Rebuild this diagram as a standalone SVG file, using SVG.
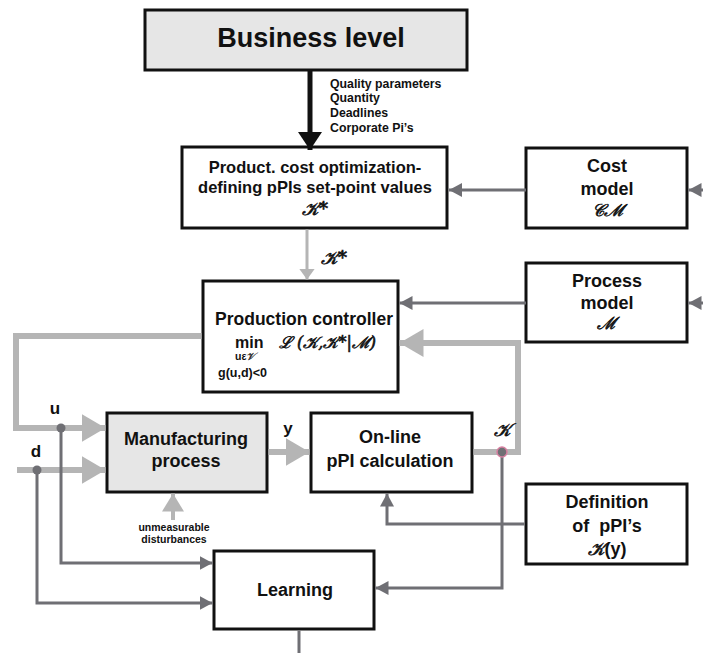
<svg xmlns="http://www.w3.org/2000/svg" width="703" height="653" viewBox="0 0 703 653">
<style>
.box{fill:#ffffff;stroke:#111111;stroke-width:3}
.t{font-family:"Liberation Sans",Arial,sans-serif;font-weight:bold;fill:#111111;text-anchor:middle}
.t.s{text-anchor:start}
.m{font-family:"DejaVu Serif","Liberation Serif",serif;font-style:italic;font-weight:normal;fill:#111111;stroke:#111111;stroke-width:0.6}
.m.c{text-anchor:middle}
.dk{fill:none;stroke:#6f6f74;stroke-width:3}
.lt{fill:none;stroke:#b5b5b5;stroke-width:6}
</style>
<defs>
<marker id="aBlack" markerUnits="userSpaceOnUse" markerWidth="22" markerHeight="24" refX="18" refY="12" orient="auto" viewBox="0 0 22 24"><path d="M0,0 L18,12 L0,24 z" fill="#111111"/></marker>
<marker id="aDark" markerUnits="userSpaceOnUse" markerWidth="14" markerHeight="14" refX="13" refY="7" orient="auto" viewBox="0 0 14 14"><path d="M0,0 L13,7 L0,14 z" fill="#6f6f74"/></marker>
<marker id="aBig" markerUnits="userSpaceOnUse" markerWidth="26" markerHeight="28" refX="24" refY="14" orient="auto" viewBox="0 0 26 28"><path d="M0,0 L24,14 L0,28 z" fill="#b5b5b5"/></marker>
<marker id="aMid" markerUnits="userSpaceOnUse" markerWidth="20" markerHeight="22" refX="18" refY="11" orient="auto" viewBox="0 0 20 22"><path d="M0,0 L18,11 L0,22 z" fill="#b5b5b5"/></marker>
<marker id="aSmall" markerUnits="userSpaceOnUse" markerWidth="12" markerHeight="16" refX="11" refY="8" orient="auto" viewBox="0 0 12 16"><path d="M0,0 L11,8 L0,16 z" fill="#b5b5b5"/></marker>
</defs>

<g id="business">
<rect class="box" x="145" y="10" width="322" height="60" style="fill:#e6e6e6"/>
<text class="t" x="311" y="47" font-size="27">Business level</text>
</g>

<g id="cost-optimization">
<rect class="box" x="182" y="147" width="265" height="81"/>
<text class="t" x="315" y="173" font-size="16.5">Product. cost optimization-</text>
<text class="t" x="315" y="193" font-size="16.5">defining pPIs set-point values</text>
<text class="m c" x="315" y="215" font-size="18">𝒦*</text>
</g>

<g id="cost-model">
<rect class="box" x="526" y="148" width="161" height="80"/>
<text class="t" x="607" y="172" font-size="18">Cost</text>
<text class="t" x="607" y="195" font-size="18">model</text>
<text class="m c" x="607" y="216" font-size="17">𝒞ℳ</text>
</g>

<g id="process-model">
<rect class="box" x="526" y="263" width="161" height="79"/>
<text class="t" x="607" y="287" font-size="18">Process</text>
<text class="t" x="607" y="309" font-size="18">model</text>
<text class="m c" x="607" y="329" font-size="17">ℳ</text>
</g>

<g id="production-controller">
<rect class="box" x="203" y="281" width="195" height="111"/>
<text class="t" x="304" y="325" font-size="17.5">Production controller</text>
<text class="t s" x="235" y="348" font-size="16">min</text>
<text class="m" x="279" y="348" font-size="16">ℒ (𝒦,𝒦*|ℳ)</text>
<text class="t s" x="235" y="360" font-size="10.5">uε<tspan class="m" style="stroke-width:0.3">𝒱</tspan></text>
<text class="t s" x="218" y="377" font-size="12.5">g(u,d)&lt;0</text>
</g>

<g id="manufacturing">
<rect class="box" x="107" y="413" width="160" height="79" style="fill:#e6e6e6"/>
<text class="t" x="186" y="445" font-size="18">Manufacturing</text>
<text class="t" x="186" y="467" font-size="18">process</text>
</g>

<g id="online-ppi">
<rect class="box" x="311" y="413" width="161" height="79"/>
<text class="t" x="390" y="443" font-size="18">On-line</text>
<text class="t" x="390" y="467" font-size="18">pPI calculation</text>
</g>

<g id="definition">
<rect class="box" x="526" y="484" width="161" height="80"/>
<text class="t" x="607" y="508" font-size="18">Definition</text>
<text class="t" x="607" y="532" font-size="18" xml:space="preserve">of  pPI’s</text>
<text class="t" x="607" y="555" font-size="18"><tspan class="m">𝒦</tspan>(y)</text>
</g>

<g id="learning">
<rect class="box" x="214" y="551" width="160" height="78"/>
<text class="t" x="295" y="596" font-size="18">Learning</text>
</g>

<g id="connectors">
<path d="M310,70 V150" stroke="#111111" stroke-width="5" fill="none" marker-end="url(#aBlack)"/>
<path class="dk" d="M526,190 H449" marker-end="url(#aDark)"/>
<path class="dk" d="M703,190 H688.5" marker-end="url(#aDark)"/>
<path class="dk" d="M526,303 H399.5" marker-end="url(#aDark)"/>
<path class="dk" d="M703,303 H688.5" marker-end="url(#aDark)"/>
<path class="lt" d="M307,229.5 V279.5" style="stroke-width:3" marker-end="url(#aSmall)"/>
<path class="lt" d="M201.5,336 H16 V428 H105.5" marker-end="url(#aBig)"/>
<path class="lt" d="M17,470 H105.5" marker-end="url(#aBig)"/>
<path class="lt" d="M268.5,452 H309.5" marker-end="url(#aBig)"/>
<path class="lt" d="M473.5,452 H518 V343 H399.5" marker-end="url(#aBig)"/>
<path class="lt" d="M173,520 V493.5" style="stroke-width:4" marker-end="url(#aMid)"/>
<path class="dk" d="M61,428 V563 H212.5" marker-end="url(#aDark)"/>
<path class="dk" d="M37,470 V603 H212.5" marker-end="url(#aDark)"/>
<path class="dk" d="M502,452 V588 H375.5" marker-end="url(#aDark)"/>
<path class="dk" d="M524.5,524 H387 V493.5" marker-end="url(#aDark)"/>
<path class="dk" d="M299,630.5 V653"/>
<circle cx="61" cy="428" r="4.5" fill="#6f6f74"/>
<circle cx="37" cy="470" r="4.5" fill="#6f6f74"/>
<circle cx="502" cy="452" r="5" fill="#6f6f74" stroke="#d77fa0" stroke-width="1.5"/>
</g>

<g id="labels">
<text class="t s" x="330" y="88" font-size="12.3">Quality parameters</text>
<text class="t s" x="330" y="102" font-size="12.3">Quantity</text>
<text class="t s" x="330" y="117" font-size="12.3">Deadlines</text>
<text class="t s" x="330" y="132" font-size="12.3">Corporate Pi’s</text>
<text class="m" x="321" y="264" font-size="18">𝒦*</text>
<text class="m" x="494" y="436" font-size="18">𝒦</text>
<text class="t" x="55" y="414" font-size="17">u</text>
<text class="t" x="36" y="457" font-size="17">d</text>
<text class="t" x="288" y="434" font-size="17">y</text>
<text class="t" x="174" y="531" font-size="10.5">unmeasurable</text>
<text class="t" x="174" y="543" font-size="10.5">disturbances</text>
</g>
</svg>
